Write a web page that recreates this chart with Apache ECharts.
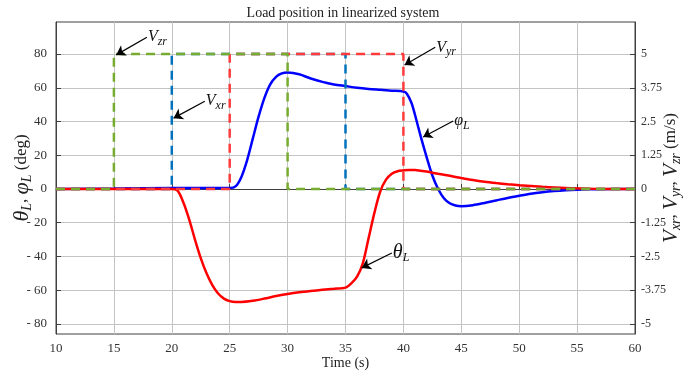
<!DOCTYPE html>
<html>
<head>
<meta charset="utf-8">
<script src="https://cdn.jsdelivr.net/npm/echarts@6/dist/echarts.min.js"></script>
<style>
  html, body { margin: 0; padding: 0; background: #fff; }
  #chart { width: 686px; height: 379px; }
</style>
</head>
<body>
<div id="chart"></div>
<script>
// load angles (deg)
const phiT = [10, 15, 20, 25, 25.5, 26, 26.5, 27, 27.5, 28, 28.5, 29, 29.5, 30, 31, 32, 33, 34, 35, 36, 37, 38, 39, 40, 40.3, 40.7, 41, 41.5, 42, 42.5, 43, 43.5, 44, 44.5, 45, 46, 47, 48, 49, 50, 51, 52, 53, 54, 55, 57, 60]
const phiV = [0, 0.3, 0.6, 0.6, 1.5, 7, 17, 30, 43, 54, 62, 66.5, 68.5, 69, 68, 65.5, 63.5, 62, 61, 60, 59.3, 58.8, 58.3, 57.8, 56.5, 51, 44, 31, 19, 8, 0, -5.5, -8.5, -9.8, -10.2, -9.6, -8.3, -6.8, -5.3, -4, -2.8, -1.9, -1.2, -0.7, -0.4, -0.1, 0]
const thetaT = [10, 20, 20.5, 21, 21.5, 22, 22.5, 23, 23.5, 24, 24.5, 25, 25.5, 26, 27, 28, 29, 30, 31, 32, 33, 34, 35, 35.5, 36, 36.5, 37, 37.5, 38, 38.5, 39, 39.5, 40, 40.5, 41, 42, 43, 44, 45, 46, 47, 48, 49, 50, 52, 54, 56, 58, 60]
const thetaV = [0, 0, -1, -8, -18, -30, -41, -50, -57, -62, -65, -66.5, -67, -67, -66.3, -65, -63.5, -62.3, -61.3, -60.5, -59.8, -59.2, -58.5, -56, -52, -44, -29, -14, -1.5, 5.5, 9, 10.5, 11, 11.3, 11.2, 10.3, 9, 7.8, 6.5, 5.3, 4.3, 3.5, 2.8, 2.2, 1.3, 0.6, 0.2, 0, 0]
// reference velocities (m/s)
const vxrT = [10, 20, 20, 35, 35, 60]
const vxrV = [0, 0, 5, 5, 0, 0]
const vyrT = [10, 25, 25, 40, 40, 60]
const vyrV = [0, 0, 5, 5, 0, 0]
const vzrT = [10, 15, 15, 30, 30, 60]
const vzrV = [0, 0, 5, 5, 0, 0]
// tick labels
const leftTicks = [-80, -60, -40, -20, 0, 20, 40, 60, 80]
const rightTicks = [-5, -3.75, -2.5, -1.25, 0, 1.25, 2.5, 3.75, 5]
// annotations: [text, tail t, tail y, tip t, tip y]
const notes = [
  ['{v|V}{s|zr}', 17.85, 90, 15.2, 79.5],
  ['{v|V}{s|xr}', 22.85, 52, 20.15, 42],
  ['{v|V}{s|yr}', 42.75, 84, 40.1, 73.5],
  ['{v|φ}{s|L}', 44.3, 40.3, 41.7, 30.8],
  ['{t|θ}{s|L}', 39, -38, 36.4, -46.8]
]

const serif = 'Liberation Serif'
const zip = (t, v) => t.map((x, i) => [x, v[i]])

const rich = {
  v: { fontFamily: serif, fontStyle: 'italic', fontSize: 16, color: '#111' },
  t: { fontFamily: serif, fontStyle: 'italic', fontSize: 20, color: '#111' },
  s: { fontFamily: serif, fontStyle: 'italic', fontSize: 12, color: '#111', padding: [9, 0, 0, 0] },
  n: { fontFamily: serif, fontSize: 14, color: '#111' }
}
// bigger text for the axis names
const nameRich = {
  v: { fontFamily: serif, fontStyle: 'italic', fontSize: 21, color: '#222' },
  t: { fontFamily: serif, fontStyle: 'italic', fontSize: 22, color: '#222' },
  s: { fontFamily: serif, fontStyle: 'italic', fontSize: 14, color: '#222', padding: [10, 0, 0, 0] },
  n: { fontFamily: serif, fontSize: 17, color: '#222' }
}

const dashed = (name, t, v, color) => ({
  name,
  type: 'line',
  yAxisIndex: 1,
  data: zip(t, v),
  symbol: 'none',
  lineStyle: { color, width: 2.5, type: [9, 6] }
})

const solid = (name, t, v, color) => ({
  name,
  type: 'line',
  data: zip(t, v),
  symbol: 'none',
  smooth: 0.3,
  lineStyle: { color, width: 2.5 }
})

const option = {
  animation: false,
  title: {
    text: 'Load position in linearized system',
    left: 'center',
    top: 1,
    textStyle: { fontFamily: serif, fontSize: 14, fontWeight: 'normal', color: '#222' }
  },
  grid: {
    left: 56, right: 51, top: 22, bottom: 45,
    outerBoundsMode: 'none',
    containLabel: false,
    show: true, borderColor: '#404040', borderWidth: 1
  },
  xAxis: {
    type: 'value',
    min: 10,
    max: 60,
    interval: 5,
    name: 'Time (s)',
    nameLocation: 'middle',
    nameGap: 22,
    nameMoveOverlap: false,
    nameTextStyle: { fontFamily: serif, fontSize: 14, color: '#222' },
    axisLine: { lineStyle: { color: '#404040' } },
    axisTick: { inside: true, length: 5, lineStyle: { color: '#404040' } },
    axisLabel: { fontFamily: serif, fontSize: 13, color: '#333', margin: 8 },
    splitLine: { lineStyle: { color: '#c4c4c4' } }
  },
  yAxis: [
    {
      type: 'value',
      min: -86,
      max: 99,
      name: '{t|θ}{s|L}{n|, }{t|φ}{s|L}{n| (deg)}',
      nameLocation: 'middle',
      nameRotate: 90,
      nameGap: 22,
      nameMoveOverlap: false,
      nameTextStyle: { rich: nameRich },
      axisLine: { show: true, lineStyle: { color: '#404040' } },
      axisTick: { inside: true, length: 5, customValues: leftTicks, lineStyle: { color: '#404040' } },
      axisLabel: {
        customValues: leftTicks,
        fontFamily: serif, fontSize: 13, color: '#333', margin: 9,
        formatter: v => (v < 0 ? '- ' + (-v) : String(v))
      },
      splitLine: { lineStyle: { color: '#c4c4c4' } }
    },
    {
      type: 'value',
      min: -86 / 16,
      max: 99 / 16,
      position: 'right',
      name: '{v|V}{s|xr}{n|, }{v|V}{s|yr}{n|, }{v|V}{s|zr}{n| (m/s)}',
      nameLocation: 'middle',
      nameRotate: 90,
      nameGap: 24,
      nameMoveOverlap: false,
      nameTextStyle: { rich: nameRich },
      axisLine: { show: true, lineStyle: { color: '#404040' } },
      axisTick: { inside: true, length: 5, customValues: rightTicks, lineStyle: { color: '#404040' } },
      axisLabel: { customValues: rightTicks, fontFamily: serif, fontSize: 12, color: '#333', margin: 6 },
      splitLine: { show: false }
    }
  ],
  series: [
    solid('phiL', phiT, phiV, '#0000ff'),
    solid('thetaL', thetaT, thetaV, '#ff0000'),
    dashed('Vxr', vxrT, vxrV, '#0072bd'),
    dashed('Vyr', vyrT, vyrV, '#ff3b3b'),
    dashed('Vzr', vzrT, vzrV, '#77ac30'),
    {
      name: 'notes',
      type: 'line',
      data: [],
      markLine: {
        silent: true,
        symbol: ['none', 'arrow'],
        symbolSize: 9,
        label: { show: false },
        lineStyle: { color: '#000', width: 1.2, type: 'solid' },
        data: notes.map(n => [{ coord: [n[1], n[2]] }, { coord: [n[3], n[4]] }])
      },
      markPoint: {
        silent: true,
        symbol: 'circle',
        symbolSize: 0,
        itemStyle: { color: 'transparent' },
        label: { show: true, position: 'right', distance: 1, rich },
        data: notes.map(n => ({ coord: [n[1], n[2]], label: { formatter: n[0] } }))
      }
    }
  ]
}

const chart = echarts.init(document.getElementById('chart'))
chart.setOption(option)
</script>
</body>
</html>
